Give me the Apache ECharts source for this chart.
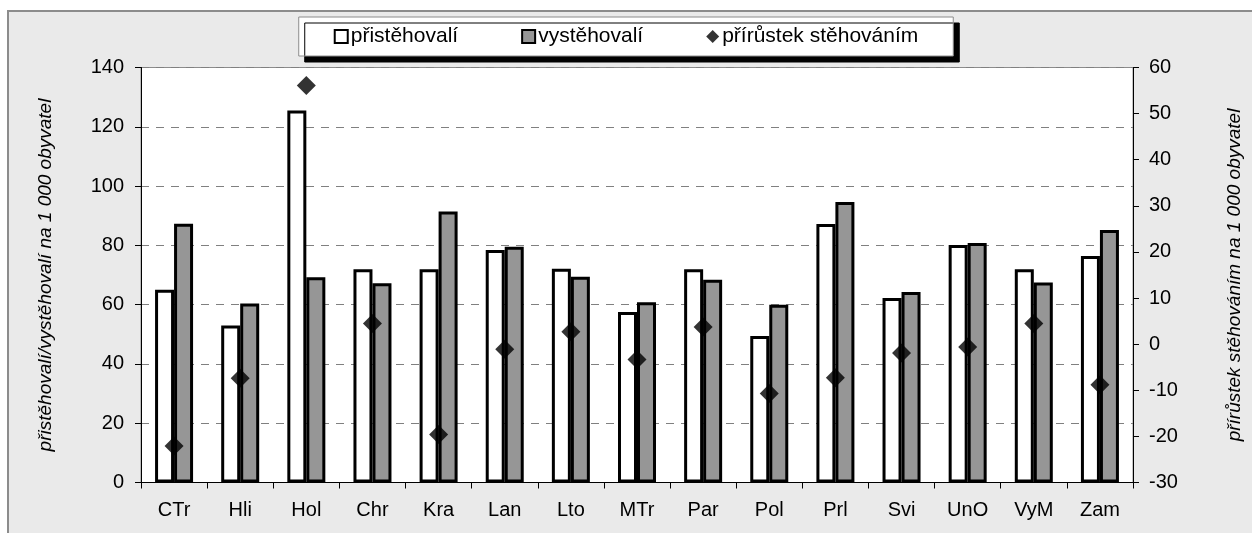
<!DOCTYPE html>
<html>
<head>
<meta charset="utf-8">
<script src="https://cdn.jsdelivr.net/npm/echarts@6/dist/echarts.min.js"></script>
<style>
  html, body { margin: 0; padding: 0; background: #fff; }
  #chart { width: 1252px; height: 533px; }
</style>
</head>
<body>
<div id="chart"></div>
<script>
// obce (zkratky)
var categories = ['CTr', 'Hli', 'Hol', 'Chr', 'Kra', 'Lan', 'Lto', 'MTr', 'Par', 'Pol', 'Prl', 'Svi', 'UnO', 'VyM', 'Zam']
// na 1 000 obyvatel
var pristehovali = [65.0, 53.0, 125.5, 71.9, 71.9, 78.4, 72.1, 57.5, 71.9, 49.4, 87.2, 62.2, 80.1, 71.9, 76.4]
var vystehovali = [87.3, 60.4, 69.2, 67.2, 91.4, 79.5, 69.4, 60.8, 68.4, 60.0, 94.6, 64.3, 80.8, 67.5, 85.2]
var prirustek = [-22.1, -7.4, 56.1, 4.5, -19.6, -1.1, 2.7, -3.3, 3.7, -10.7, -7.3, -1.9, -0.6, 4.5, -8.8]

var font = 'Liberation Sans, Arial, sans-serif'
var myChart = echarts.init(document.getElementById('chart'))

var options = {
  animation: false,
  textStyle: { fontFamily: font, color: '#000' },
  graphic: [
    {
      type: 'rect',
      z: -100,
      shape: { x: 8, y: 11, width: 1260, height: 540 },
      style: { fill: '#eaeaea', stroke: '#8c8c8c', lineWidth: 2 }
    }
  ],
  legend: {
    top: 17,
    left: 'center',
    padding: [9, 35, 9, 35],
    itemGap: 63,
    itemWidth: 13,
    itemHeight: 13,
    backgroundColor: '#fff',
    borderColor: '#8c8c8c',
    borderWidth: 1,
    shadowColor: '#000',
    shadowBlur: 0,
    shadowOffsetX: 6,
    shadowOffsetY: 6,
    textStyle: { fontSize: 21, fontFamily: font, color: '#000', padding: [0, 0, 0, -2] },
    data: [
      { name: 'přistěhovalí', icon: 'rect', itemStyle: { color: '#fff', borderColor: '#000', borderWidth: 2 } },
      { name: 'vystěhovalí', icon: 'rect', itemStyle: { color: '#969696', borderColor: '#000', borderWidth: 2 } },
      { name: 'přírůstek stěhováním', icon: 'diamond', itemStyle: { color: '#000', borderWidth: 0 } }
    ]
  },
  grid: {
    left: 141,
    right: 116,
    top: 67.5,
    bottom: 50.5,
    show: true,
    backgroundColor: '#fff',
    borderColor: '#8c8c8c',
    borderWidth: 1
  },
  xAxis: {
    type: 'category',
    data: categories,
    axisLine: { lineStyle: { color: '#000', width: 1 } },
    axisTick: { show: true, length: 6, lineStyle: { color: '#000' } },
    axisLabel: { fontSize: 20, color: '#000', margin: 18, fontFamily: font }
  },
  yAxis: [
    {
      type: 'value',
      min: 0,
      max: 140,
      interval: 20,
      name: 'přistěhovalí/vystěhovalí na 1 000 obyvatel',
      nameLocation: 'middle',
      nameRotate: 90,
      nameGap: 86,
      nameTextStyle: { fontSize: 19, fontStyle: 'italic', color: '#000', fontFamily: font },
      axisLine: { show: true, lineStyle: { color: '#000', width: 1 } },
      axisTick: { show: true, length: 6, lineStyle: { color: '#000' } },
      axisLabel: { fontSize: 20, color: '#000', margin: 17, fontFamily: font },
      splitLine: { show: true, lineStyle: { color: '#808080', type: [8, 7], width: 1 } }
    },
    {
      type: 'value',
      min: -30,
      max: 60,
      interval: 10,
      position: 'right',
      name: 'přírůstek stěhováním na 1 000 obyvatel',
      nameLocation: 'middle',
      nameRotate: 90,
      nameGap: 92,
      nameTextStyle: { fontSize: 19, fontStyle: 'italic', color: '#000', fontFamily: font },
      axisLine: { show: true, onZero: false, lineStyle: { color: '#000', width: 1 } },
      axisTick: { show: true, length: 6, lineStyle: { color: '#000' } },
      axisLabel: { fontSize: 20, color: '#000', margin: 16, fontFamily: font },
      splitLine: { show: false }
    }
  ],
  series: [
    {
      name: 'přistěhovalí',
      type: 'bar',
      barWidth: 19,
      barGap: '0%',
      itemStyle: { color: '#fff', borderColor: '#000', borderWidth: 3 },
      data: pristehovali
    },
    {
      name: 'vystěhovalí',
      type: 'bar',
      barWidth: 19,
      barGap: '0%',
      itemStyle: { color: '#969696', borderColor: '#000', borderWidth: 3 },
      data: vystehovali
    },
    {
      name: 'přírůstek stěhováním',
      type: 'scatter',
      yAxisIndex: 1,
      symbol: 'diamond',
      symbolSize: 19,
      itemStyle: { color: '#000' },
      z: 5,
      data: prirustek
    }
  ]
}

myChart.setOption(options, true)
</script>
</body>
</html>
